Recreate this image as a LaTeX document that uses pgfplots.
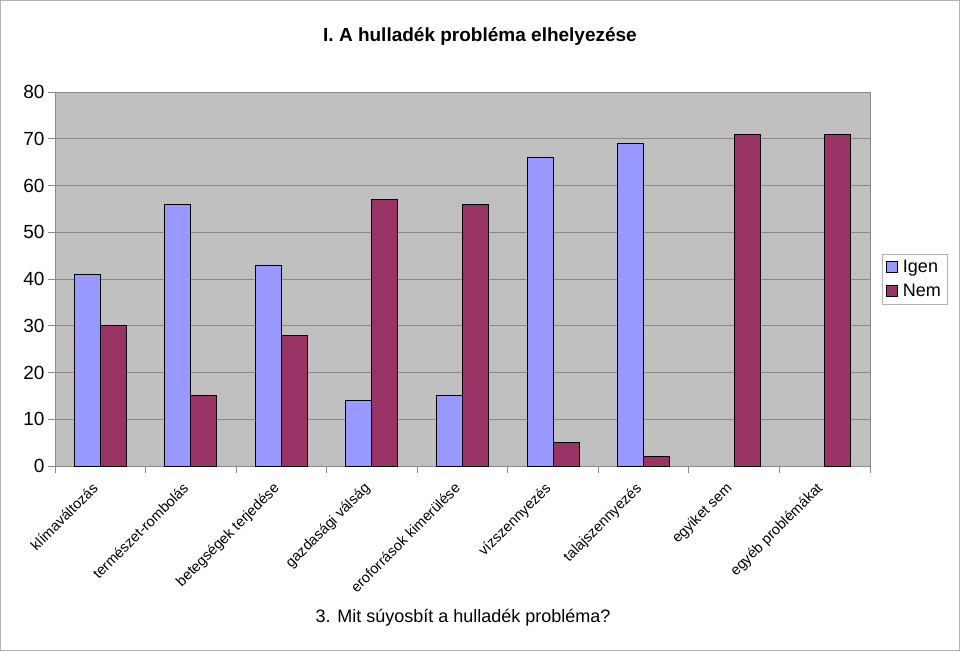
\documentclass[border=0pt]{standalone}
\usepackage{fontspec}
\setmainfont{Liberation Sans}
\usepackage{pgfplots}
\pgfplotsset{compat=1.18}
\definecolor{igen}{HTML}{9999FF}
\definecolor{nem}{HTML}{993366}
\definecolor{plotbg}{HTML}{C0C0C0}
\definecolor{gridc}{HTML}{8A8A8A}
\begin{document}
\begin{tikzpicture}
\useasboundingbox (0pt,0pt) rectangle (960pt,651pt);
\draw[gray!60, line width=1pt] (0.5pt,0.5pt) rectangle (959.5pt,650.5pt);
\begin{axis}[
  at={(55pt,185pt)}, anchor=south west,
  width=815pt, height=374pt, scale only axis,
  ybar=0pt, bar width=26pt,
  xmin=-0.5, xmax=8.5, ymin=0, ymax=80,
  ytick={0,10,...,80},
  xtick={-0.5,0.5,...,8.5},
  xticklabels={},
  xtick pos=left, ytick pos=left,
  extra x ticks={0,1,2,3,4,5,6,7,8},
  extra x tick labels={klímaváltozás,természet-rombolás,betegségek terjedése,gazdasági válság,eroforrások kimerülése,vízszennyezés,talajszennyezés,egyiket sem,egyéb problémákat},
  extra x tick style={major tick length=0pt, tick label style={xshift=-9pt, yshift=-14pt, rotate=45, anchor=north east, font=\fontsize{14.5}{16}\selectfont, inner sep=1pt}},
  tick align=outside, major tick length=7pt,
  tick style={draw=gridc, line width=0.8pt},
  ymajorgrids, major grid style={draw=gridc, line width=0.8pt},
  axis line style={draw=gridc, line width=0.8pt},
  axis background/.style={fill=plotbg},
  yticklabel style={font=\fontsize{19}{21}\selectfont, /pgf/number format/assume math mode=true},
  legend style={at={(1.0147,0.5)}, anchor=west, draw=gray!60, fill=white, font=\fontsize{18}{21}\selectfont, inner xsep=4pt, inner ysep=4pt, row sep=6pt, /tikz/every odd column/.append style={column sep=3pt}},
  legend cell align=left,
  legend image code/.code={\draw[#1, draw=black, line width=0.8pt] (0pt,-5pt) rectangle (11pt,6pt);},
  clip=false,
]
\addplot[fill=igen, draw=black, line width=0.9pt] coordinates {(0,41) (1,56) (2,43) (3,14) (4,15) (5,66) (6,69)};
\addplot[fill=nem, draw=black, line width=0.9pt] coordinates {(0,30) (1,15) (2,28) (3,57) (4,56) (5,5) (6,2) (7,71) (8,71)};
\legend{Igen,Nem}
\end{axis}
\node[font=\bfseries\fontsize{19}{22}\selectfont] at (480pt,614pt) {I. A hulladék probléma elhelyezése};
\node[font=\fontsize{18}{21}\selectfont] at (463pt,33pt) {3. Mit súyosbít a hulladék probléma?};
\end{tikzpicture}
\end{document}
